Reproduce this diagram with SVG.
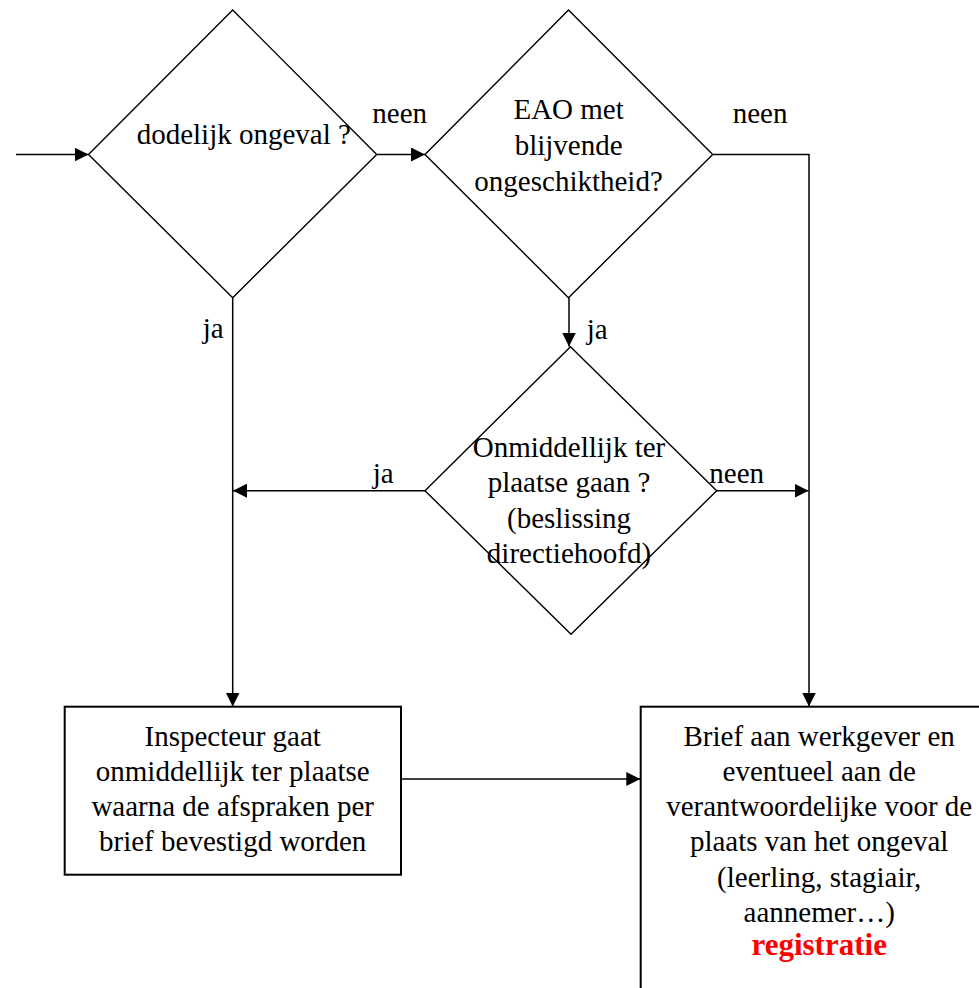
<svg xmlns="http://www.w3.org/2000/svg" width="979" height="988" viewBox="0 0 979 988">
<defs>
<marker id="arr" markerUnits="userSpaceOnUse" markerWidth="15" markerHeight="14" refX="14" refY="7" orient="auto">
<path d="M0,0 L14,7 L0,14 z" fill="#000"/>
</marker>
<style>
.shape{fill:#fff;stroke:#000;stroke-width:1.4}
.box{fill:#fff;stroke:#000;stroke-width:2}
.ln{fill:none;stroke:#000;stroke-width:1.5}
.t{font-family:"Liberation Serif","Times New Roman",serif;font-size:29px;fill:#000}
.c{text-anchor:middle}
.red{font-weight:bold;fill:#ff0000;font-size:31px}
</style>
</defs>
<rect width="979" height="988" fill="#fff"/>
<g id="connectors">
<line class="ln" x1="16" y1="154.5" x2="88.5" y2="154.5" marker-end="url(#arr)"/>
<line class="ln" x1="376.7" y1="154.5" x2="425" y2="154.5" marker-end="url(#arr)"/>
<polyline class="ln" points="712.7,154.5 809,154.5 809,706.5" marker-end="url(#arr)"/>
<line class="ln" x1="232.7" y1="297.7" x2="232.7" y2="706.5" marker-end="url(#arr)"/>
<line class="ln" x1="569" y1="297.7" x2="569" y2="346.5" marker-end="url(#arr)"/>
<line class="ln" x1="425" y1="490.7" x2="233" y2="490.7" marker-end="url(#arr)"/>
<line class="ln" x1="716.7" y1="490.7" x2="808.5" y2="490.7" marker-end="url(#arr)"/>
<line class="ln" x1="401" y1="779" x2="640.3" y2="779" marker-end="url(#arr)"/>
<text class="t" x="372.3" y="122.7">neen</text>
<text class="t" x="732.7" y="122.7">neen</text>
<text class="t" x="202.7" y="338.3">ja</text>
<text class="t" x="586.7" y="339">ja</text>
<text class="t" x="372.7" y="483">ja</text>
<text class="t" x="709.3" y="482.7">neen</text>
</g>
<g id="d1">
<polygon class="shape" points="232.7,10 376.7,154.5 232.7,297.7 88.5,154.5"/>
<text class="t" x="136.7" y="144.3">dodelijk ongeval ?</text>
</g>
<g id="d2">
<polygon class="shape" points="568.5,10 712.7,154.5 568.5,297.7 425,154.5"/>
<text class="t c" x="568.6" y="119">EAO met</text>
<text class="t c" x="568.6" y="155">blijvende</text>
<text class="t c" x="568.6" y="190.7">ongeschiktheid?</text>
</g>
<g id="d3">
<polygon class="shape" points="570.5,346.7 716.7,490.7 571,634.3 425,490.7"/>
<text class="t c" x="569" y="456.7">Onmiddellijk ter</text>
<text class="t c" x="569" y="492.3">plaatse gaan ?</text>
<text class="t c" x="569" y="527.7">(beslissing</text>
<text class="t c" x="569" y="562.7">directiehoofd)</text>
</g>
<g id="b1">
<rect class="box" x="64.7" y="706.7" width="336.3" height="168"/>
<text class="t c" x="232.7" y="746">Inspecteur gaat</text>
<text class="t c" x="232.7" y="780.7">onmiddellijk ter plaatse</text>
<text class="t c" x="232.7" y="815.7">waarna de afspraken per</text>
<text class="t c" x="232.7" y="851">brief bevestigd worden</text>
</g>
<g id="b2">
<rect class="box" x="640.7" y="706.7" width="360" height="300"/>
<text class="t c" x="819.2" y="746">Brief aan werkgever en</text>
<text class="t c" x="819.2" y="780.7">eventueel aan de</text>
<text class="t c" x="819.2" y="815.7">verantwoordelijke voor de</text>
<text class="t c" x="819.2" y="851">plaats van het ongeval</text>
<text class="t c" x="819.2" y="886.7">(leerling, stagiair,</text>
<text class="t c" x="819.2" y="922.3">aannemer…)</text>
<text class="t c red" x="819.2" y="955">registratie</text>
</g>
</svg>
